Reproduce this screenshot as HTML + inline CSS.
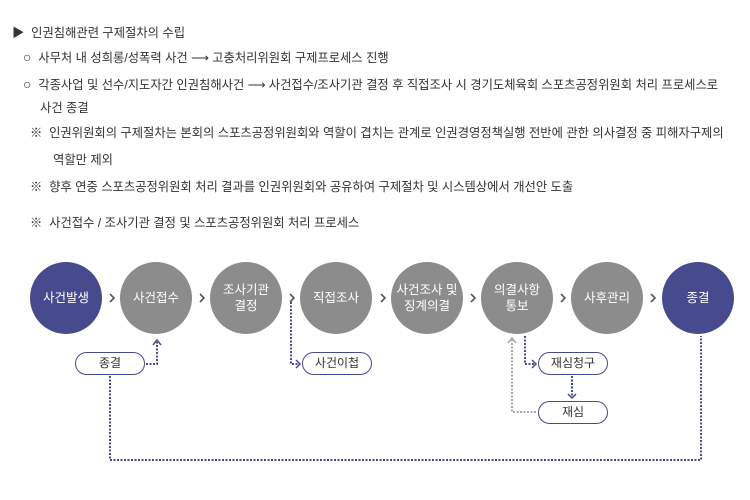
<!DOCTYPE html>
<html><head><meta charset="utf-8"><style>
body{margin:0;width:750px;height:500px;background:#fff;position:relative;overflow:hidden;font-family:"Liberation Sans","Noto Sans CJK KR",sans-serif;color:#333;font-size:12.3px}
.t{position:absolute;white-space:nowrap;line-height:14px}
.c{position:absolute;width:72px;height:72px;border-radius:50%;background:#8c8c8c;color:#fff;display:flex;align-items:center;justify-content:center;text-align:center;font-size:12.5px;line-height:16px;top:262px}
.d{background:#474a8c}
.p{position:absolute;width:68px;height:21px;border:1.3px solid #474a8c;border-radius:12px;background:#fff;text-align:center;line-height:21px;font-size:12px;color:#333}
.o{font-size:14px}
</style></head><body>
<div class="t" style="left:12px;top:26px">▶&nbsp; 인권침해관련 구제절차의 수립</div>
<div class="t" style="left:23px;top:50px"><span class="o">○</span>&nbsp; 사무처 내 성희롱/성폭력 사건 ⟶ 고충처리위원회 구제프로세스 진행</div>
<div class="t" style="left:23px;top:77px"><span class="o">○</span>&nbsp; 각종사업 및 선수/지도자간 인권침해사건 ⟶ 사건접수/조사기관 결정 후 직접조사 시 경기도체육회 스포츠공정위원회 처리 프로세스로</div>
<div class="t" style="left:40px;top:101px">사건 종결</div>
<div class="t" style="left:30px;top:126px">※&nbsp; 인권위원회의 구제절차는 본회의 스포츠공정위원회와 역할이 겹치는 관계로 인권경영정책실행 전반에 관한 의사결정 중 피해자구제의</div>
<div class="t" style="left:53px;top:153px">역할만 제외</div>
<div class="t" style="left:30px;top:180px">※&nbsp; 향후 연중 스포츠공정위원회 처리 결과를 인권위원회와 공유하여 구제절차 및 시스템상에서 개선안 도출</div>
<div class="t" style="left:30px;top:216px">※&nbsp; 사건접수 / 조사기관 결정 및 스포츠공정위원회 처리 프로세스</div>

<svg style="position:absolute;left:0;top:0" width="750" height="500">
<g fill="none" stroke="#474a8c" stroke-width="2" stroke-dasharray="2,1.5">
<polyline points="110,376 110,460 701,460 701,336"/>
<polyline points="146,364 157,364 157,342"/>
<polyline points="291,302 291,364 300,364"/>
<polyline points="525,336 525,364 536,364"/>
<polyline points="572,376 572,398"/>
</g>
<polyline points="536,412 512,412 512,340" fill="none" stroke="#aaa" stroke-width="2" stroke-dasharray="2,1.5"/>
<g fill="none" stroke-width="1.5">
<polyline points="153,345 157,340 161,345" stroke="#474a8c"/>
<polyline points="296,360 300,364 296,368" stroke="#474a8c"/>
<polyline points="532,360 536,364 532,368" stroke="#474a8c"/>
<polyline points="568,394 572,398 576,394" stroke="#474a8c"/>
<polyline points="508,343 512,338 516,343" stroke="#aaa"/>
</g>
<g fill="none" stroke="#555" stroke-width="1.6">
<polyline points="110,294 114,298 110,302"/>
<polyline points="200,294 204,298 200,302"/>
<polyline points="290,294 294,298 290,302"/>
<polyline points="381,294 385,298 381,302"/>
<polyline points="471,294 475,298 471,302"/>
<polyline points="561,294 565,298 561,302"/>
<polyline points="651,294 655,298 651,302"/>
</g>
</svg>

<div class="c d" style="left:30px">사건발생</div>
<div class="c" style="left:120px">사건접수</div>
<div class="c" style="left:210px">조사기관<br>결정</div>
<div class="c" style="left:300px">직접조사</div>
<div class="c" style="left:391px">사건조사 및<br>징계의결</div>
<div class="c" style="left:481px">의결사항<br>통보</div>
<div class="c" style="left:571px">사후관리</div>
<div class="c d" style="left:662px">종결</div>

<div class="p" style="left:75px;top:352px">종결</div>
<div class="p" style="left:302px;top:352px">사건이첩</div>
<div class="p" style="left:538px;top:352px">재심청구</div>
<div class="p" style="left:538px;top:401px">재심</div>
</body></html>
